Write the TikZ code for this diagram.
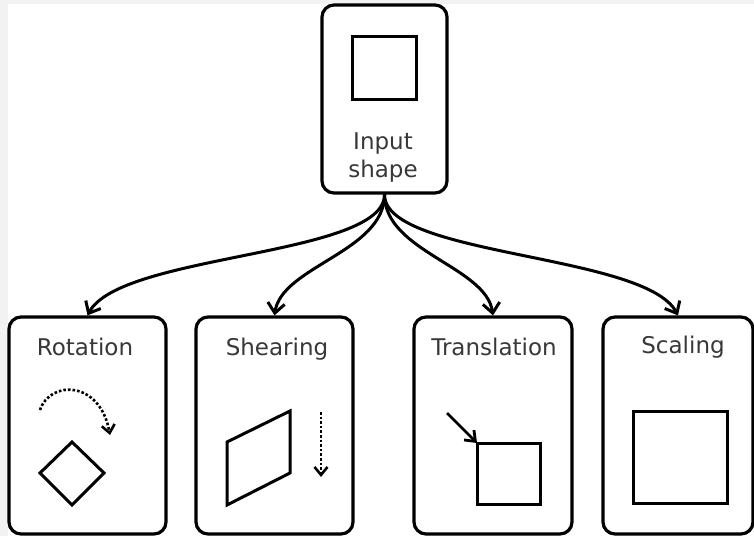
\documentclass[tikz,border=0pt]{standalone}
\usepackage{fontspec}
\setmainfont{DejaVu Sans}
\usetikzlibrary{arrows.meta}
\begin{document}
\begin{tikzpicture}[x=1pt,y=-1pt,
  card/.style={draw=black,line width=3.2pt,rounded corners=12pt,fill=white,inner sep=0pt},
  lbl/.style={text=black!78,font=\fontsize{23}{27}\selectfont,anchor=base,inner sep=0pt},
  shp/.style={draw=black,line width=3pt},
  link/.style={line width=3pt,-{Straight Barb[length=10pt,width=17pt,line width=3pt]}},
  hint/.style={line width=2.6pt,dotted,-{Straight Barb[length=8pt,width=13pt,line width=2.6pt]}},
  move/.style={line width=2.8pt,-{Straight Barb[length=9pt,width=14pt,line width=2.8pt]}}]
% page background with a thin grey margin
\fill[black!5] (0,0) rectangle (754,536);
\fill[white] (8,4) rectangle (754,536);
\useasboundingbox (0,0) rectangle (754,536);

% cards
\node[card,minimum width=125pt,minimum height=188pt] (input) at (384.5,99) {};
\node[card,minimum width=157pt,minimum height=217pt] (rot) at (87.5,425.5) {};
\node[card,minimum width=157pt,minimum height=217pt] (shear) at (274.5,425.5) {};
\node[card,minimum width=158pt,minimum height=217pt] (trans) at (493,425.5) {};
\node[card,minimum width=150pt,minimum height=217pt] (scale) at (678,425.5) {};

% connectors
\draw[link] (input.south) .. controls +(0,62) and +(33,-62) .. (rot.north);
\draw[link] (input.south) .. controls +(0,57) and +(7,-49) .. (shear.north);
\draw[link] (input.south) .. controls +(0,57) and +(-7,-49) .. (trans.north);
\draw[link] (input.south) .. controls +(0,62) and +(-33,-62) .. (scale.north);

% input card
\draw[shp] (352,36) rectangle (416,99);
\node[lbl] (inputa) at (383,149) {Input};
\node[lbl] (inputb) at (383,177) {shape};

% rotation card
\node[lbl] (rott) at (85,355) {Rotation};
\draw[hint] (40,410) .. controls (50,380) and (100,380) .. (110,435);
\draw[shp] (72,442) -- (104,473) -- (72,505) -- (40,473) -- cycle;

% shearing card
\node[lbl] (sheart) at (277,355) {Shearing};
\draw[shp] (227,442) -- (290,411) -- (290,473) -- (227,505) -- cycle;
\draw[hint] (321,412) -- (321,477);

% translation card
\node[lbl] (transt) at (494,355) {Translation};
\draw[shp] (477,443) rectangle (540,504);
\draw[move] (447,413) -- (477,443);

% scaling card
\node[lbl] (scalet) at (683,353) {Scaling};
\draw[shp] (633,411) rectangle (727,503);
\end{tikzpicture}
\end{document}
